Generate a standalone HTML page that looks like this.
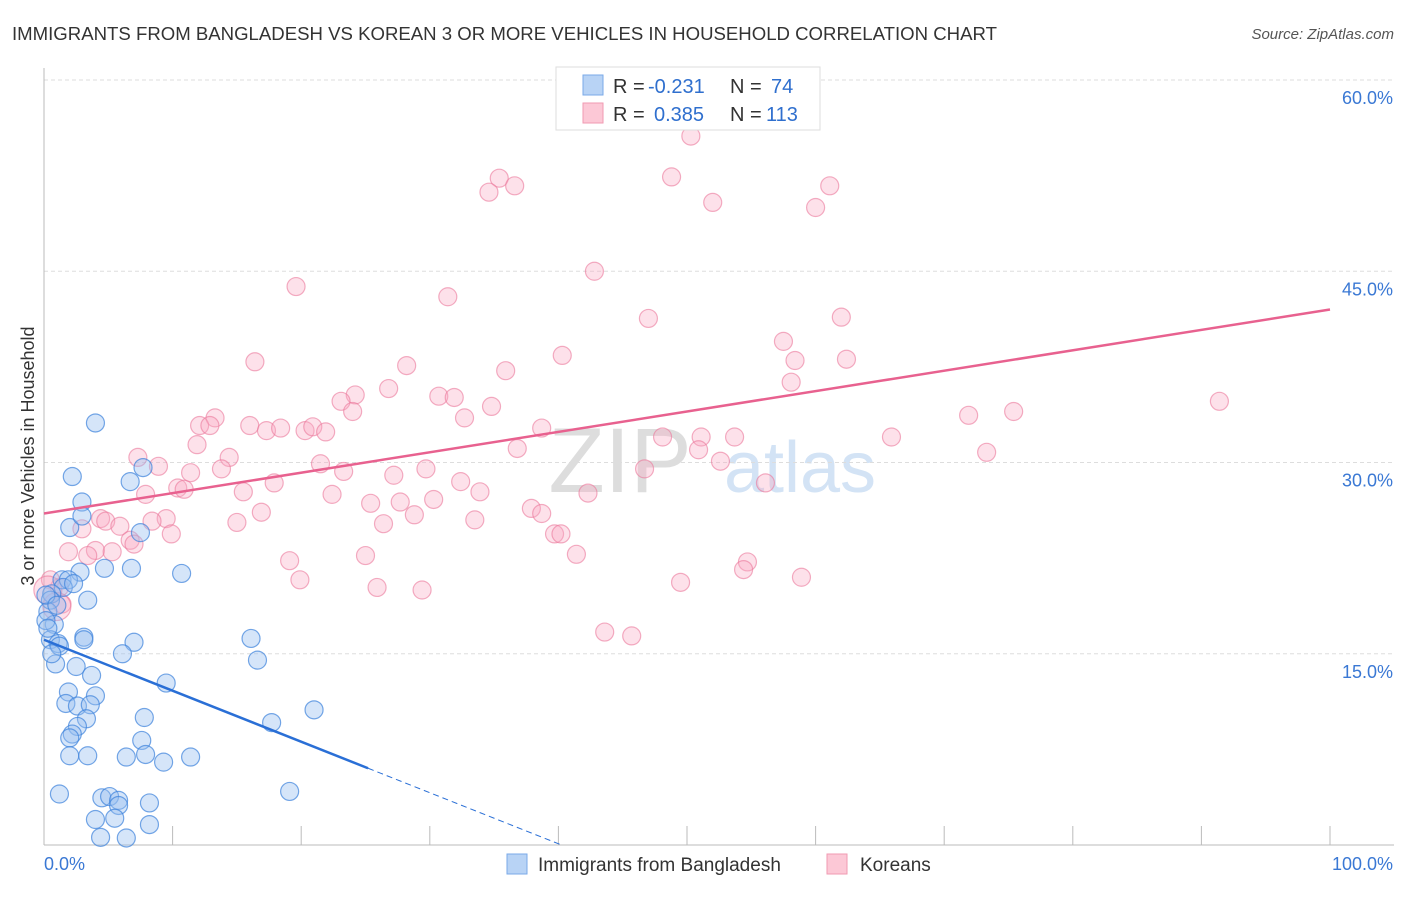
<!DOCTYPE html>
<html><head><meta charset="utf-8"><style>
body{margin:0;background:#fff;font-family:"Liberation Sans",sans-serif;}
svg text{font-family:"Liberation Sans",sans-serif;}
</style></head><body>
<svg width="1406" height="892" xmlns="http://www.w3.org/2000/svg">
<text x="12" y="40" font-size="18.6" fill="#333">IMMIGRANTS FROM BANGLADESH VS KOREAN 3 OR MORE VEHICLES IN HOUSEHOLD CORRELATION CHART</text>
<text x="1394" y="39" font-size="15" fill="#555" font-style="italic" text-anchor="end">Source: ZipAtlas.com</text>
<text x="620" y="492" font-size="92" fill="#ddd" font-family="Liberation Serif" text-anchor="middle">ZIP</text>
<text x="800" y="492" font-size="72" fill="#d3e3f5" text-anchor="middle">atlas</text>
<g id="grid"></g>
<g id="axes"></g>
<g id="marks"></g>
<text transform="translate(34,456) rotate(-90)" font-size="18" fill="#333" text-anchor="middle">3 or more Vehicles in Household</text>
<g>
<rect x="556" y="67" width="264" height="63" fill="#fff" stroke="#ddd"/>
<rect x="583" y="75" width="20" height="20" fill="#b8d3f5" stroke="#7aaae8"/>
<rect x="583" y="103" width="20" height="20" fill="#fcc8d6" stroke="#f09ab2"/>
<text x="613" y="93" font-size="20" fill="#333">R =</text>
<text x="648" y="93" font-size="20" fill="#2f6fce">-0.231</text>
<text x="730" y="93" font-size="20" fill="#333">N =</text>
<text x="771" y="93" font-size="20" fill="#2f6fce">74</text>
<text x="613" y="121" font-size="20" fill="#333">R =</text>
<text x="654" y="121" font-size="20" fill="#2f6fce">0.385</text>
<text x="730" y="121" font-size="20" fill="#333">N =</text>
<text x="766" y="121" font-size="20" fill="#2f6fce">113</text>
</g>
<g>
<rect x="507" y="854" width="20" height="20" fill="#b8d3f5" stroke="#7aaae8"/>
<text x="538" y="871" font-size="19" fill="#333">Immigrants from Bangladesh</text>
<rect x="827" y="854" width="20" height="20" fill="#fcc8d6" stroke="#f09ab2"/>
<text x="860" y="871" font-size="19" fill="#333">Koreans</text>
</g>
</svg>
<script>
const yTicks=[15,30,45,60];
const yTickLabels=["15.0%","30.0%","45.0%","60.0%"];
const xTicks=[0,10,20,30,40,50,60,70,80,90,100];
const blueX=[4.0,2.2,6.7,7.7,2.95,2.0,2.95,7.5,2.8,4.7,6.8,10.7,1.4,1.9,1.5,3.4,0.6,0.5,0.3,0.8,0.5,1.1,3.1,3.1,1.2,7.0,6.1,16.1,16.6,0.9,2.5,3.7,1.9,4.0,9.5,1.7,2.6,3.6,7.8,3.3,2.6,2.2,2.0,17.7,21.0,7.6,2.0,3.4,6.4,7.9,9.3,11.4,1.2,4.5,5.1,5.8,5.8,8.2,19.1,4.0,5.5,8.2,4.4,6.4,0.15,0.15,0.3,0.6,1.0,2.3];
const blueY=[33.1,28.9,28.5,29.6,26.9,24.9,25.8,24.5,21.4,21.7,21.7,21.3,20.8,20.8,20.2,19.2,19.7,19.2,18.3,17.3,16.1,15.8,16.3,16.1,15.6,15.9,15.0,16.2,14.5,14.2,14.0,13.3,12.0,11.7,12.7,11.1,10.9,11.0,10.0,9.9,9.3,8.7,8.4,9.6,10.6,8.2,7.0,7.0,6.9,7.1,6.5,6.9,4.0,3.7,3.8,3.5,3.1,3.3,4.2,2.0,2.1,1.6,0.6,0.55,19.6,17.6,17.0,15.0,18.8,20.5];
const pinkX=[50.3,35.4,34.6,36.6,48.8,61.1,60.0,52.0,42.8,19.6,31.4,47.0,62.0,57.5,40.3,16.4,28.2,58.4,62.4,35.9,58.1,26.8,24.2,23.1,30.7,31.9,34.8,24.0,32.7,13.3,12.1,12.9,16.0,17.3,18.4,20.3,20.9,21.9,38.7,48.1,51.1,53.7,65.9,71.9,75.4,91.4,73.3,50.9,36.8,11.9,7.3,14.4,8.9,21.5,52.6,13.8,11.4,23.3,29.7,46.7,27.2,32.4,56.1,17.9,10.4,10.9,7.9,15.5,22.4,33.9,42.3,30.3,25.4,27.7,16.9,28.8,37.9,38.7,33.5,26.4,15.0,9.5,8.4,4.4,4.8,5.9,2.95,9.9,39.7,40.2,6.7,7.0,1.9,4.0,5.3,3.4,25.0,41.4,19.1,54.7,54.4,19.9,49.5,58.9,25.9,29.4,1.2,0.5,1.4,43.6,45.7,0.3,1.0];
const pinkY=[55.6,52.3,51.2,51.7,52.4,51.7,50.0,50.4,45.0,43.8,43.0,41.3,41.4,39.5,38.4,37.9,37.6,38.0,38.1,37.2,36.3,35.8,35.3,34.8,35.2,35.1,34.4,34.0,33.5,33.5,32.9,32.9,32.9,32.5,32.7,32.5,32.8,32.4,32.7,32.0,32.0,32.0,32.0,33.7,34.0,34.8,30.8,31.0,31.1,31.4,30.4,30.4,29.7,29.9,30.1,29.5,29.2,29.3,29.5,29.5,29.0,28.5,28.4,28.4,28.0,27.9,27.5,27.7,27.5,27.7,27.6,27.1,26.8,26.9,26.1,25.9,26.4,26.0,25.5,25.2,25.3,25.6,25.4,25.6,25.4,25.0,24.8,24.4,24.4,24.4,23.9,23.6,23.0,23.1,23.0,22.7,22.7,22.8,22.3,22.2,21.6,20.8,20.6,21.0,20.2,20.0,20.2,20.8,18.9,16.7,16.4,20.0,18.7];
const blueFit=[16.1,-0.40];
const blueSolidEnd=25.2;
const pinkFit=[26.0,0.16];
const NS="http://www.w3.org/2000/svg";
const X=v=>44+v*12.86, Y=v=>845-v*12.75;
function mk(t,a,p){const e=document.createElementNS(NS,t);for(const k in a)e.setAttribute(k,a[k]);p.appendChild(e);return e;}
const grid=document.getElementById('grid'),axes=document.getElementById('axes'),marks=document.getElementById('marks');
yTicks.forEach((v,i)=>{
 const l=mk('line',{x1:44,x2:1394,y1:Y(v),y2:Y(v),stroke:'#ddd','stroke-dasharray':'4,3'},grid);
 
 
 const t=mk('text',{x:1393,y:Y(v)+24,'font-size':18,fill:'#3a78d4','text-anchor':'end'},grid);
 t.textContent=yTickLabels[i];
 
 
});
mk('line',{x1:44,x2:44,y1:68,y2:845,stroke:'#bbb'},axes);
mk('line',{x1:44,x2:1394,y1:845,y2:845,stroke:'#bbb'},axes);
xTicks.forEach(v=>{
 const l=mk('line',{x1:X(v),x2:X(v),y1:826,y2:845,stroke:'#bbb'},axes);
 
 
});
let t=mk('text',{x:44,y:870,'font-size':18,fill:'#3a78d4'},axes);t.textContent='0.0%';


t=mk('text',{x:1393,y:870,'font-size':18,fill:'#3a78d4','text-anchor':'end'},axes);t.textContent='100.0%';


pinkX.forEach((x,i)=>{
 const c=mk('circle',{cx:X(x),cy:Y(pinkY[i]),r:x<1.5&&i>=pinkX.length-4?14:9,fill:'rgba(248,170,195,0.35)',stroke:'rgba(235,120,155,0.6)','stroke-width':1.2},marks);
 
 
});
blueX.forEach((x,i)=>{
 const c=mk('circle',{cx:X(x),cy:Y(blueY[i]),r:9,fill:'rgba(150,190,240,0.4)',stroke:'rgba(60,130,220,0.7)','stroke-width':1.2},marks);
 
 
});
const bf=x=>blueFit[0]+blueFit[1]*x;
let ln=mk('line',{x1:X(0),y1:Y(bf(0)),x2:X(blueSolidEnd),y2:Y(bf(blueSolidEnd)),stroke:'#2a6fd6','stroke-width':2.5},marks);


const xEnd=-blueFit[0]/blueFit[1];
ln=mk('line',{x1:X(blueSolidEnd),y1:Y(bf(blueSolidEnd)),x2:X(xEnd),y2:Y(0),stroke:'#2a6fd6','stroke-width':1,'stroke-dasharray':'6,4'},marks);


ln=mk('line',{x1:X(0),y1:Y(pinkFit[0]),x2:X(100),y2:Y(pinkFit[0]+pinkFit[1]*100),stroke:'#e8618f','stroke-width':2.5},marks);


</script>
</body></html>
